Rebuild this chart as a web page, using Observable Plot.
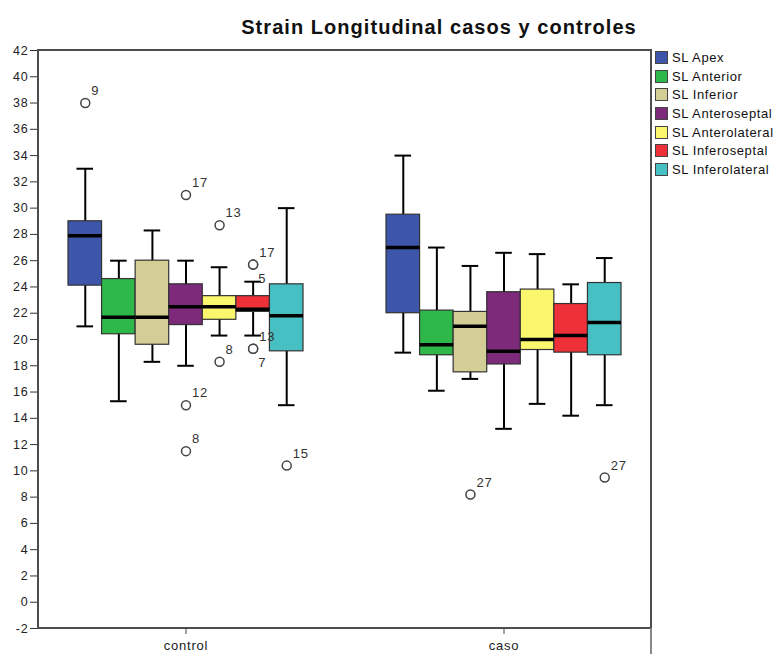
<!DOCTYPE html>
<html>
<head>
<meta charset="utf-8">
<script src="https://cdn.jsdelivr.net/npm/d3@7"></script>
<script src="https://cdn.jsdelivr.net/npm/@observablehq/plot@0.6"></script>
<style>
  html, body { margin: 0; padding: 0; background: #fff; overflow: hidden; }
  body { font-family: "Liberation Sans", Arial, sans-serif; }
  #wrap { position: relative; width: 781px; height: 654px; }
  #wrap svg { position: absolute; left: 0; top: 0; }
  #wrap svg text { letter-spacing: 0.8px; }
  #title { position: absolute; left: 189px; top: 17px; width: 500px; text-align: center;
           font-size: 20px; line-height: 20px; font-weight: bold; letter-spacing: 1.05px; color: #111; white-space: nowrap; }
  #frame { position: absolute; left: 37px; top: 49px; width: 615px; height: 580px; box-sizing: border-box;
           border: 2px solid #4d4d4d; pointer-events: none; }
  #legline { position: absolute; left: 650px; top: 628px; width: 2px; height: 26px; background: #888; }
  #legend { position: absolute; left: 655px; top: 48px; }
  .item { display: flex; align-items: center; height: 18.7px; font-size: 13px; letter-spacing: 0.6px; color: #111; white-space: nowrap; }
  .sw { width: 13px; height: 13px; box-sizing: border-box; border: 1px solid #444; margin-right: 4px; }
</style>
</head>
<body>
<div id="wrap">
  <div id="title">Strain Longitudinal casos y controles</div>
  <div id="legend"></div>
  <div id="frame"></div>
  <div id="legline"></div>
</div>
<script>
// ---- data ----
const groups = ["control", "caso"];
const series = ["SL Apex", "SL Anterior", "SL Inferior", "SL Anteroseptal", "SL Anterolateral", "SL Inferoseptal", "SL Inferolateral"];
const seriesColors = ["#3d56a9", "#2eb84a", "#d3cd96", "#7d2a7b", "#faf76e", "#ee3138", "#47c0c4"];
const yTicks = [-2, 0, 2, 4, 6, 8, 10, 12, 14, 16, 18, 20, 22, 24, 26, 28, 30, 32, 34, 36, 38, 40, 42];

// control group (whisker low, Q1, median, Q3, whisker high)
const controlLow    = [21.0, 15.3, 18.3, 18.0, 20.3, 20.3, 15.0];
const controlQ1     = [24.1, 20.4, 19.6, 21.1, 21.5, 22.1, 19.1];
const controlMedian = [27.9, 21.7, 21.7, 22.5, 22.5, 22.3, 21.8];
const controlQ3     = [29.0, 24.6, 26.0, 24.2, 23.3, 23.3, 24.2];
const controlHigh   = [33.0, 26.0, 28.3, 26.0, 25.5, 24.4, 30.0];

// caso group
const casoLow    = [19.0, 16.1, 17.0, 13.2, 15.1, 14.2, 15.0];
const casoQ1     = [22.0, 18.8, 17.5, 18.1, 19.2, 19.0, 18.8];
const casoMedian = [27.0, 19.6, 21.0, 19.1, 20.0, 20.3, 21.3];
const casoQ3     = [29.5, 22.2, 22.1, 23.6, 23.8, 22.7, 24.3];
const casoHigh   = [34.0, 27.0, 25.6, 26.6, 26.5, 24.2, 26.2];

// outliers
const outlierGroup  = ["control", "control", "control", "control", "control", "control", "control", "control", "control", "control", "control", "caso", "caso"];
const outlierSeries = ["SL Apex", "SL Anteroseptal", "SL Anteroseptal", "SL Anteroseptal", "SL Anterolateral", "SL Anterolateral", "SL Inferoseptal", "SL Inferoseptal", "SL Inferoseptal", "SL Inferoseptal", "SL Inferolateral", "SL Inferior", "SL Inferolateral"];
const outlierValue  = [38.0, 31.0, 15.0, 11.5, 28.7, 18.3, 25.7, 25.7, 19.3, 19.3, 10.4, 8.2, 9.5];
const outlierLabel  = ["9", "17", "12", "8", "13", "8", "17", "5", "13", "7", "15", "27", "27"];

// ---- build tables ----
const stats = {
  control: {low: controlLow, q1: controlQ1, median: controlMedian, q3: controlQ3, high: controlHigh},
  caso: {low: casoLow, q1: casoQ1, median: casoMedian, q3: casoQ3, high: casoHigh}
};
const rows = [];
groups.forEach(g => series.forEach((s, i) => rows.push({
  group: g, series: s,
  low: stats[g].low[i], q1: stats[g].q1[i], median: stats[g].median[i], q3: stats[g].q3[i], high: stats[g].high[i]
})));
const outliers = outlierValue.map((v, i) => {
  const dup = outlierValue.slice(0, i).some((w, j) => w === v && outlierGroup[j] === outlierGroup[i] && outlierSeries[j] === outlierSeries[i]);
  return {group: outlierGroup[i], series: outlierSeries[i], value: v, label: outlierLabel[i], below: dup};
});

// ---- legend ----
const legend = document.getElementById("legend");
series.forEach((s, i) => {
  const it = document.createElement("div");
  it.className = "item";
  const sw = document.createElement("div");
  sw.className = "sw";
  sw.style.background = seriesColors[i];
  const tx = document.createElement("span");
  tx.textContent = s;
  it.appendChild(sw); it.appendChild(tx);
  legend.appendChild(it);
});

// ---- chart ----
const plotW = 781, mL = 38, mR = 130;
const pIn = 0.261, pOut = 0.0943;
const step = (plotW - mL - mR) / (groups.length - pIn + 2 * pOut);
const pos = {fx: "group", x: "series"};
const chart = Plot.plot({
  width: plotW,
  height: 654,
  marginTop: 50,
  marginBottom: 26,
  marginLeft: mL,
  marginRight: mR,
  style: {fontFamily: '"Liberation Sans", Arial, sans-serif', fontSize: "12px", color: "#222", background: "transparent"},
  fx: {domain: groups, paddingInner: pIn, paddingOuter: pOut, round: false, label: null},
  x: {domain: series, padding: 0, round: false, axis: null},
  y: {domain: [-2, 42], label: null},
  color: {domain: series, range: seriesColors},
  marks: [
    Plot.axisY({ticks: yTicks, tickSize: 8, tickPadding: 2, fontSize: 12.5, tickFormat: d => String(d), label: null, stroke: "#333", dx: -step * pOut}),
    Plot.axisFx({anchor: "bottom", tickSize: 6, tickPadding: 6, fontSize: 13, label: null, stroke: "#444"}),
    Plot.ruleX(rows, {...pos, y1: "low", y2: "high", stroke: "#000", strokeWidth: 2}),
    Plot.tickY(rows, {...pos, y: "low", stroke: "#000", strokeWidth: 2, insetLeft: 8.5, insetRight: 8.5}),
    Plot.tickY(rows, {...pos, y: "high", stroke: "#000", strokeWidth: 2, insetLeft: 8.5, insetRight: 8.5}),
    Plot.barY(rows, {...pos, y1: "q1", y2: "q3", fill: "series", stroke: "#333", strokeWidth: 1.2}),
    Plot.tickY(rows, {...pos, y: "median", stroke: "#000", strokeWidth: 3.5}),
    Plot.dot(outliers, {...pos, y: "value", r: 4.5, stroke: "#444", strokeWidth: 1.5, fill: "white"}),
    Plot.text(outliers.filter(d => !d.below), {...pos, y: "value", text: "label", textAnchor: "start", dx: 6, dy: -12, fontSize: 13, fill: "#333"}),
    Plot.text(outliers.filter(d => d.below), {...pos, y: "value", text: "label", textAnchor: "start", dx: 5, dy: 14, fontSize: 13, fill: "#333"})
  ]
});
document.getElementById("wrap").insertBefore(chart, document.getElementById("title"));
</script>
</body>
</html>
